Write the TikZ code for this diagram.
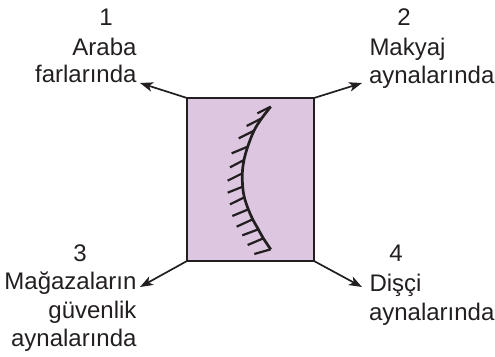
\documentclass[tikz,border=0pt]{standalone}
\usepackage{fontspec}
\setmainfont{Liberation Sans}
\usetikzlibrary{arrows.meta}
\definecolor{ink}{HTML}{231F20}
\definecolor{lilac}{HTML}{DCC6E0}
\tikzset{
  lbl/.style={inner sep=0pt,outer sep=0pt,text=ink,font=\fontsize{24}{28}\selectfont},
  ptr/.style={draw=ink,line width=1.7pt,-{Stealth[length=13pt,width=9.5pt,inset=3.5pt]}},
  hatch/.style={draw=ink,line width=2.2pt},
  curved/.style={draw=ink,line width=2.7pt}
}
\begin{document}
\begin{tikzpicture}[x=1pt,y=-1pt]
\useasboundingbox (0,0) rectangle (495,356);
\node[draw=ink,fill=lilac,line width=2pt,minimum width=127pt,minimum height=163pt,inner sep=0pt,outer sep=0pt] (box) at (250.5,179.5) {};
\coordinate (t1) at (140,83);
\coordinate (t2) at (362,83);
\coordinate (t3) at (140,287);
\coordinate (t4) at (362,287);
\draw[ptr] (box.north west) -- (t1);
\draw[ptr] (box.north east) -- (t2);
\draw[ptr] (box.south west) -- (t3);
\draw[ptr] (box.south east) -- (t4);
\draw[curved] plot[smooth,tension=0.6] coordinates {(270.7,106.7) (261.7,118.3) (254,130.7) (247.7,146.7) (244,160) (242.3,173.3) (242.7,186.7) (244.3,197.3) (248.3,209.3) (252.7,219.3) (258.3,229.3) (263.3,238.3) (270.7,249.3)};
\foreach \ax/\ay/\bx/\by in {272/50/232/70,245/85/200/108,222/122/176/145,203/170/155/190,192/210/150/232,187/250/143/272,188/290/143/308,193/322/150/343,205/358/157/378,218/388/170/410,235/418/187/436,250/445/203/465,272/478/223/492}
  \draw[hatch] ({180+\ax/3},{90+\ay/3}) -- ({180+\bx/3},{90+\by/3});
\node[lbl,anchor=base] (a0) at (106,25) {1};
\node[lbl,anchor=base east] (a1) at (136.5,55) {Araba};
\node[lbl,anchor=base east] (a2) at (136.5,82) {farlarında};
\node[lbl,anchor=base] (b0) at (404,25) {2};
\node[lbl,anchor=base west] (b1) at (369.5,55) {Makyaj};
\node[lbl,anchor=base west] (b2) at (369,83) {aynalarında};
\node[lbl,anchor=base] (c0) at (80,261) {3};
\node[lbl,anchor=base east] (c1) at (136.5,289) {Mağazaların};
\node[lbl,anchor=base east] (c2) at (136.5,318) {güvenlik};
\node[lbl,anchor=base east] (c3) at (136.5,346) {aynalarında};
\node[lbl,anchor=base] (d0) at (396,261) {4};
\node[lbl,anchor=base west] (d1) at (369.5,291) {Dişçi};
\node[lbl,anchor=base west] (d2) at (369,320) {aynalarında};
\end{tikzpicture}
\end{document}
